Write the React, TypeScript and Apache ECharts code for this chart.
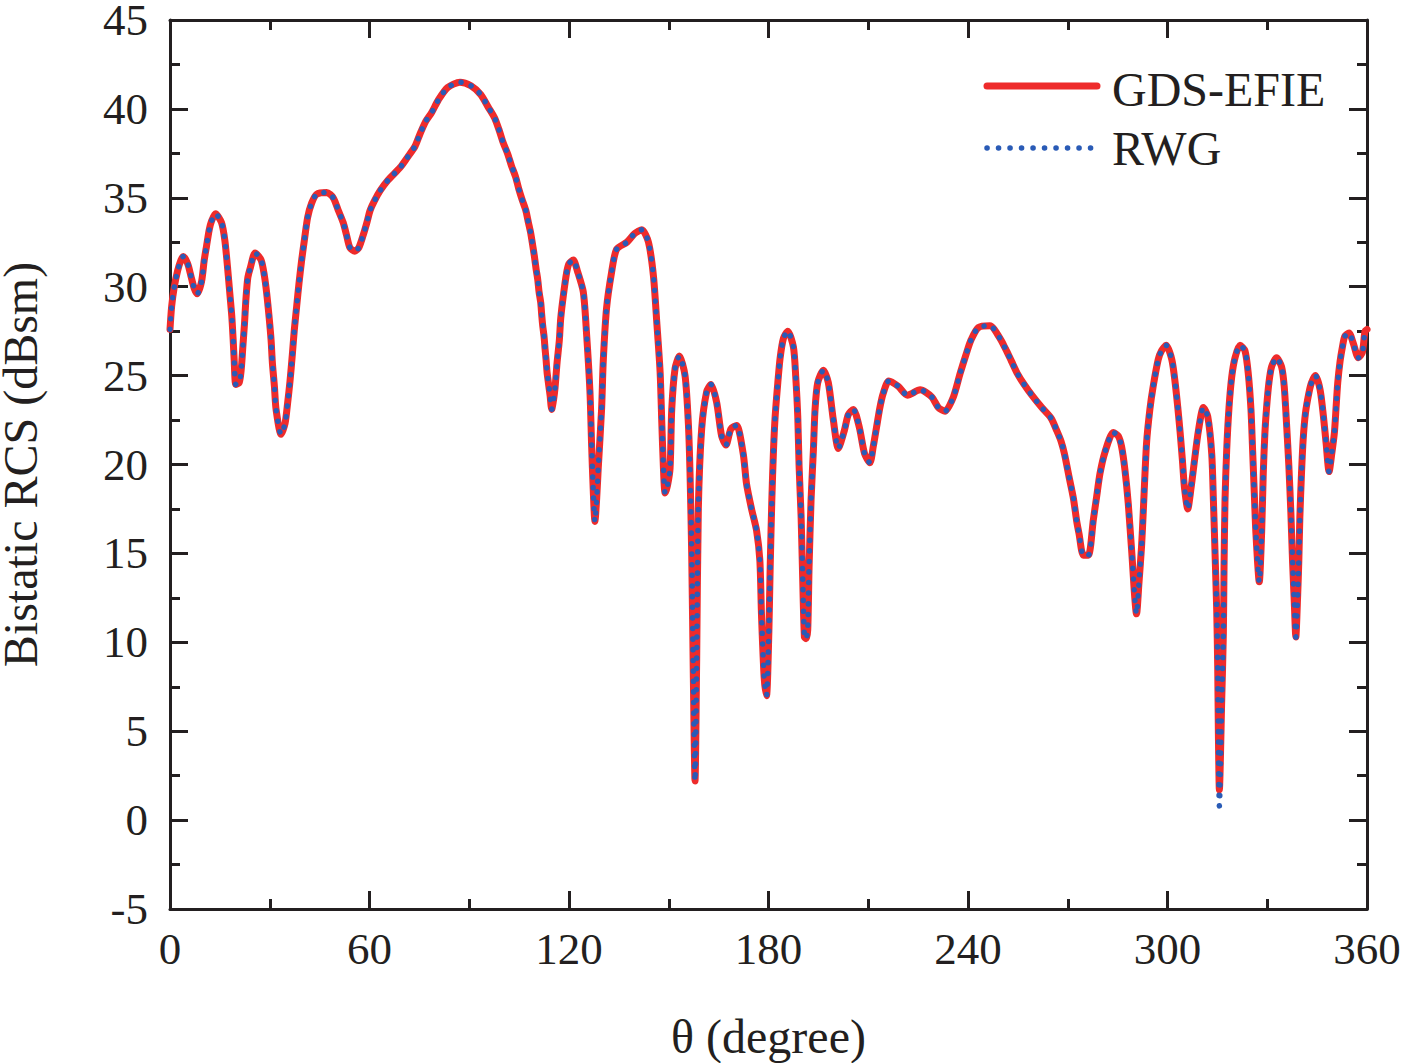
import React, { useEffect, useRef } from "react";
import * as echarts from "echarts";

const thetaDeg: number[] = [
  0, 0.5, 1.3, 2.3, 3.3, 4.0, 5.3, 6.3, 7.3, 8.2, 9.5, 10.3, 11.0, 11.8, 12.5, 13.7, 15.5, 16.5, 17.3, 18.0,
  18.6, 19.0, 19.3, 19.8, 20.8, 21.4, 21.9, 22.4, 22.8, 23.4, 24.2, 25.6, 27.4, 28.4, 29.1, 29.8, 30.4, 30.8, 31.4, 31.9,
  33.4, 34.6, 35.4, 36.1, 36.8, 37.4, 38.1, 38.8, 39.6, 40.4, 41.4, 42.6, 44.1, 47.1, 49.1, 50.6, 52.1, 53.1, 54.1, 55.6,
  56.8, 58.1, 59.2, 60.2, 61.4, 63.2, 65.6, 69.2, 71.5, 73.7, 75.2, 76.9, 78.7, 80.7, 83.5, 87.2, 90.5, 93.5, 95.7, 97.6,
  99.0, 100.2, 101.5, 102.7, 103.9, 104.9, 105.9, 107.0, 107.8, 108.5, 109.1, 109.6, 110.1, 110.6, 111.0, 111.5, 111.8, 112.1, 112.5, 112.8,
  113.1, 113.4, 113.8, 114.3, 114.8, 115.4, 115.8, 116.4, 117.1, 117.5, 118.3, 119.3, 120.0, 121.3, 122.5, 124.3, 125.3, 126.3, 126.8, 127.3,
  127.8, 128.3, 128.8, 129.8, 130.3, 131.3, 132.8, 134.3, 137.4, 139.8, 141.9, 143.9, 145.4, 146.4, 147.4, 147.9, 148.4, 148.9, 149.6, 150.4,
  150.9, 151.9, 153.2, 154.9, 155.9, 156.4, 156.9, 157.4, 157.9, 158.4, 158.9, 159.9, 161.4, 162.7, 164.4, 165.9, 167.2, 168.7, 170.4, 172.4,
  173.4, 174.9, 176.4, 177.4, 177.9, 178.7, 179.4, 180.1, 180.5, 181.0, 181.5, 182.0, 182.8, 183.5, 184.5, 185.8, 187.5, 188.2, 188.8, 189.2,
  189.8, 190.2, 190.8, 191.3, 191.8, 192.2, 192.8, 193.5, 194.0, 194.8, 196.5, 198.0, 199.5, 201.0, 202.8, 204.0, 205.5, 207.3, 208.9, 210.5,
  211.5, 212.5, 213.5, 214.5, 216.2, 219.0, 221.8, 225.6, 229.1, 231.1, 233.1, 235.6, 237.6, 239.6, 240.9, 243.1, 246.6, 249.6, 251.3, 253.1,
  254.9, 256.9, 259.2, 262.2, 265.0, 266.7, 268.0, 269.0, 270.4, 271.7, 272.7, 273.4, 274.7, 276.2, 277.7, 278.7, 279.7, 281.2, 283.7, 285.2,
  286.2, 287.2, 288.2, 289.2, 290.7, 291.4, 292.2, 292.7, 293.7, 294.7, 295.7, 297.2, 298.2, 299.6, 301.3, 302.3, 303.1, 303.8, 304.5, 305.1,
  306.1, 307.1, 308.1, 309.3, 310.8, 312.1, 313.3, 313.8, 314.3, 314.8, 315.1, 315.3, 315.6, 316.3, 316.8, 317.0, 317.3, 317.8, 318.5, 319.3,
  320.3, 321.8, 323.3, 324.3, 325.1, 325.6, 326.1, 326.6, 327.6, 328.3, 328.8, 329.3, 329.8, 330.5, 331.3, 332.8, 334.3, 335.1, 335.8, 336.5,
  337.1, 337.6, 338.1, 338.6, 339.1, 339.5, 339.8, 340.3, 340.8, 341.5, 342.5, 343.3, 344.5, 345.9, 346.9, 347.7, 348.6, 349.4, 350.2, 350.7,
  351.2, 351.9, 352.6, 353.3, 354.6, 355.9, 357.4, 358.6, 359.4, 360,
];

const gdsEfie: number[] = [
  27.6, 28.9, 30.0, 30.9, 31.5, 31.7, 31.3, 30.6, 29.9, 29.6, 30.3, 31.5, 32.3, 33.2, 33.7, 34.1, 33.6, 32.6, 31.1, 29.6,
  28.3, 27.0, 25.9, 24.5, 24.6, 25.3, 26.6, 27.9, 29.2, 30.5, 31.1, 31.9, 31.5, 30.6, 29.6, 28.3, 27.0, 25.7, 24.4, 23.1,
  21.7, 22.3, 23.5, 24.7, 26.2, 27.6, 28.9, 30.2, 31.5, 32.6, 33.9, 34.7, 35.2, 35.3, 35.0, 34.3, 33.6, 32.9, 32.2, 32.0,
  32.2, 32.9, 33.6, 34.3, 34.8, 35.4, 36.0, 36.7, 37.3, 37.9, 38.6, 39.3, 39.8, 40.5, 41.2, 41.5, 41.3, 40.8, 40.1, 39.5,
  38.8, 38.1, 37.5, 36.8, 36.2, 35.5, 34.9, 34.3, 33.6, 33.0, 32.3, 31.7, 31.0, 30.4, 29.7, 29.1, 28.4, 27.8, 27.2, 26.5,
  25.9, 25.2, 24.6, 23.9, 23.1, 23.7, 24.3, 25.7, 27.0, 28.2, 29.5, 30.8, 31.3, 31.5, 30.9, 29.7, 27.3, 24.1, 21.1, 18.5,
  16.8, 18.0, 19.8, 23.1, 25.8, 28.8, 30.8, 32.1, 32.5, 33.0, 33.2, 32.5, 30.6, 28.0, 25.2, 22.4, 19.8, 18.4, 18.8, 19.8,
  23.1, 25.4, 26.1, 25.0, 22.3, 19.5, 15.0, 8.0, 2.2, 9.0, 17.5, 22.0, 24.1, 24.5, 23.5, 21.6, 21.1, 22.0, 22.2, 20.6,
  18.9, 17.5, 16.3, 14.6, 11.5, 8.0, 7.0, 10.5, 14.2, 18.0, 20.8, 22.7, 24.6, 26.0, 27.1, 27.5, 26.6, 24.9, 22.7, 19.9,
  17.1, 14.2, 10.3, 10.2, 10.7, 14.2, 18.0, 20.8, 23.1, 24.6, 25.3, 24.6, 22.5, 20.9, 21.9, 22.8, 23.1, 22.1, 20.6, 20.1,
  21.0, 22.1, 23.2, 24.0, 24.7, 24.4, 23.9, 24.2, 23.8, 23.2, 23.0, 23.8, 25.1, 26.3, 27.0, 27.7, 27.8, 27.1, 26.5, 25.8,
  25.1, 24.5, 23.9, 23.2, 22.6, 21.9, 21.3, 20.6, 19.3, 18.1, 16.8, 16.1, 14.9, 14.9, 16.9, 18.2, 19.5, 20.7, 21.8, 21.6,
  21.0, 19.7, 17.8, 15.2, 11.6, 13.3, 15.4, 17.3, 21.2, 23.1, 24.4, 25.9, 26.4, 26.7, 25.9, 24.6, 23.2, 21.8, 20.2, 18.7,
  17.5, 18.7, 20.2, 21.9, 23.2, 22.7, 20.6, 18.0, 15.0, 11.8, 8.6, 4.9, 1.7, 6.7, 10.5, 14.2, 18.0, 20.8, 23.2, 24.9,
  26.0, 26.7, 26.4, 25.1, 23.1, 20.8, 18.4, 16.1, 13.4, 16.1, 19.5, 21.8, 23.2, 24.6, 25.5, 26.0, 25.5, 24.4, 22.3, 19.9,
  17.3, 14.6, 12.4, 10.3, 12.4, 14.6, 17.0, 19.5, 21.4, 22.9, 24.0, 24.6, 25.0, 24.2, 22.7, 21.2, 19.6, 20.6, 21.8, 23.2,
  24.6, 25.8, 26.6, 27.2, 27.4, 26.8, 26.0, 26.3, 27.5, 27.6,
];

// RWG values where they differ visibly from GDS-EFIE (deepest null)
const rwgDiffers: [number, number][] = [
  [315.6, 0.8],
];

const xTicks = { min: 0, max: 360, interval: 60 };
const yTicks = { min: -5, max: 45, interval: 5 };

const RED = "#EE2B2B";
const BLUE = "#2A5BB6";
const INK = "#231F20";
const FONT = "Liberation Serif";

export default function App() {
  const ref = useRef<HTMLDivElement>(null);
  useEffect(() => {
    if (!ref.current) return;
    const chart = echarts.init(ref.current, undefined, { renderer: "svg" });
    const gdsData = thetaDeg.map((t, i) => [t, gdsEfie[i]]);
    const rwgData = thetaDeg.map((t, i) => {
      const d = rwgDiffers.find((o) => o[0] === t);
      return [t, d ? d[1] : gdsEfie[i]];
    });
    const axisCommon = {
      type: "value" as const,
      axisLine: { show: true, onZero: false, lineStyle: { color: INK, width: 3 } },
      axisTick: { show: true, inside: true, length: 18, lineStyle: { color: INK, width: 3 } },
      minorTick: { show: true, splitNumber: 2, length: 10, lineStyle: { color: INK, width: 3 } },
      splitLine: { show: false },
      minorSplitLine: { show: false },
    };
    chart.setOption({
      animation: false,
      backgroundColor: "#ffffff",
      grid: { left: 170, top: 20, width: 1197, height: 889, containLabel: false, outerBoundsMode: "none" },
      xAxis: [
        {
          ...axisCommon,
          position: "bottom",
          min: xTicks.min,
          max: xTicks.max,
          interval: xTicks.interval,
          name: "θ (degree)",
          nameLocation: "middle",
          nameGap: 112,
          nameTextStyle: { fontFamily: FONT, fontSize: 48, lineHeight: 30, color: INK },
          axisLabel: { show: true, margin: 17, fontFamily: FONT, fontSize: 45, color: INK },
        },
        {
          ...axisCommon,
          position: "top",
          min: xTicks.min,
          max: xTicks.max,
          interval: xTicks.interval,
          axisLabel: { show: false },
        },
      ],
      yAxis: [
        {
          ...axisCommon,
          position: "left",
          min: yTicks.min,
          max: yTicks.max,
          interval: yTicks.interval,
          name: "Bistatic RCS (dBsm)",
          nameLocation: "middle",
          nameGap: 135,
          nameTextStyle: { fontFamily: FONT, fontSize: 48, lineHeight: 30, color: INK },
          axisLabel: { show: true, margin: 22, fontFamily: FONT, fontSize: 45, lineHeight: 30, color: INK },
        },
        {
          ...axisCommon,
          position: "right",
          min: yTicks.min,
          max: yTicks.max,
          interval: yTicks.interval,
          axisLabel: { show: false },
        },
      ],
      series: [
        {
          name: "GDS-EFIE",
          type: "line",
          data: gdsData,
          showSymbol: false,
          symbol: "none",
          smooth: 0.25,
          lineStyle: { color: RED, width: 7, cap: "round", join: "round" },
          z: 2,
        },
        {
          name: "RWG",
          type: "line",
          data: rwgData,
          showSymbol: false,
          symbol: "none",
          smooth: 0.25,
          lineStyle: { color: BLUE, width: 5.5, type: [0.1, 10.5], cap: "round" },
          z: 3,
        },
      ],
      graphic: [
        {
          type: "line",
          shape: { x1: 987, y1: 86, x2: 1097, y2: 86 },
          style: { stroke: RED, lineWidth: 7, lineCap: "round" },
        },
        {
          type: "text",
          x: 1112,
          y: 89,
          style: { text: "GDS-EFIE", fontFamily: FONT, fontSize: 48, fill: INK, verticalAlign: "middle", align: "left" },
        },
        {
          type: "line",
          shape: { x1: 987, y1: 148, x2: 1092, y2: 148 },
          style: { stroke: BLUE, lineWidth: 5.5, lineDash: [0.1, 11.4], lineCap: "round" },
        },
        {
          type: "text",
          x: 1112,
          y: 148,
          style: { text: "RWG", fontFamily: FONT, fontSize: 48, fill: INK, verticalAlign: "middle", align: "left" },
        },
      ],
    });
    return () => chart.dispose();
  }, []);
  return (
    <div
      ref={ref}
      style={{ position: "absolute", left: 0, top: 0, width: 1403, height: 1063, background: "#fff" }}
    />
  );
}
